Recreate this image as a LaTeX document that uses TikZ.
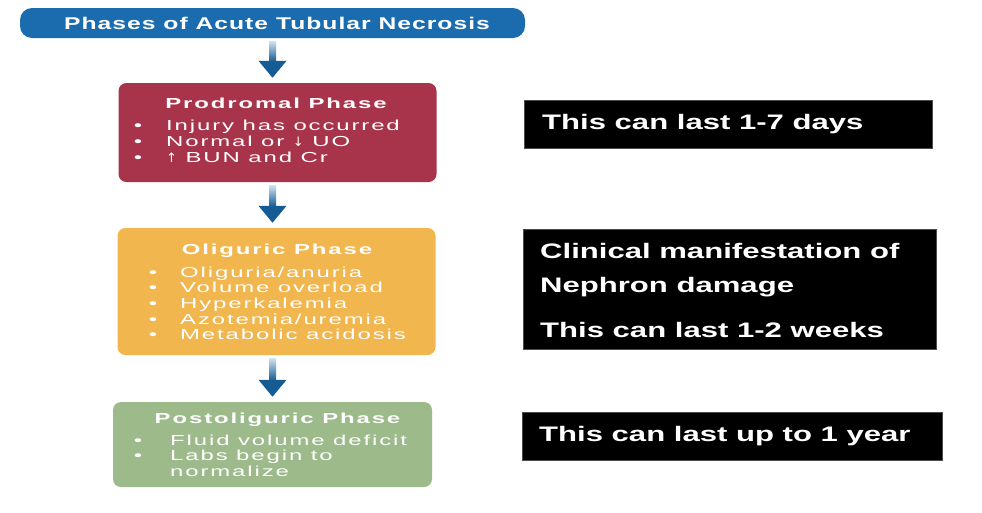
\documentclass[tikz,border=0pt]{standalone}
\usepackage{fontspec}
\setmainfont{Liberation Sans}
\newfontfamily\hfont[FakeStretch=1.45,LetterSpace=6]{Liberation Sans}
\newfontfamily\lfont[FakeStretch=1.65,LetterSpace=13]{Liberation Sans}
\newfontfamily\rfont[FakeStretch=1.48]{Liberation Sans}
\newfontfamily\arrfont{DejaVu Sans}
\usetikzlibrary{arrows.meta,calc}
\definecolor{tblue}{HTML}{1A6CAE}
\definecolor{crim}{HTML}{A8344B}
\definecolor{oran}{HTML}{F2B64E}
\definecolor{gren}{HTML}{9DBA8B}
\tikzset{
  phasebox/.style={draw=none, rounded corners=8pt, inner sep=0pt},
  htitle/.style={anchor=base, text=white, inner sep=0pt, font=\hfont\bfseries\fontsize{17}{20}\selectfont},
  ptitle/.style={anchor=base, text=white, inner sep=0pt, font=\lfont\bfseries\fontsize{14.5}{16}\selectfont},
  pbul/.style={anchor=base, text=white, inner sep=0pt, font=\lfont\fontsize{14.5}{16}\selectfont},
  pitem/.style={anchor=base west, text=white, inner sep=0pt, font=\lfont\fontsize{14.5}{16}\selectfont},
  blackbox/.style={fill=black, draw=black!70, line width=0.6pt, inner sep=0pt, anchor=north west},
  rtext/.style={anchor=base west, text=white, inner sep=0pt, font=\rfont\bfseries\fontsize{21}{24}\selectfont},
  flowarrow/.style={draw=tblue!85!black, line width=7pt, -{Triangle[width=27pt,length=17pt]}, shorten <=3pt, shorten >=5pt},
  shaftshade/.style={top color=tblue!20, bottom color=tblue!85!black}
}
\newcommand{\upar}{{\arrfont\fontsize{13}{16}\selectfont ↑}}
\newcommand{\dnar}{{\arrfont\fontsize{13}{16}\selectfont ↓}}
\begin{document}
\begin{tikzpicture}[x=1pt,y=-1pt]
\useasboundingbox[fill=white] (0,0) rectangle (982,512);

% title
\node[phasebox, rounded corners=12pt, fill=tblue, minimum width=505pt, minimum height=30pt] (title) at (272.5,23) {};
\node[htitle] (titleT) at (277,29.5) {Phases of Acute Tubular Necrosis};

% prodromal
\node[phasebox, fill=crim, minimum width=318pt, minimum height=99pt] (pro) at (277.5,132.5) {};
\node[ptitle] (proT) at (276,108) {Prodromal Phase};
\node[pbul] (pb1) at (138,130) {•};
\node[pitem] (pi1) at (166,130) {Injury has occurred};
\node[pbul] (pb2) at (138,146.5) {•};
\node[pitem] (pi2) at (166,146.5) {Normal or \dnar\ UO};
\node[pbul] (pb3) at (138,162.5) {•};
\node[pitem] (pi3) at (166,162.5) {\upar\ BUN and Cr};

% oliguric
\node[phasebox, fill=oran, minimum width=318pt, minimum height=127pt] (oli) at (276.5,291.5) {};
\node[ptitle] (oliT) at (277,254) {Oliguric Phase};
\node[pbul] (ob1) at (153,277) {•};
\node[pitem] (oi1) at (180,277) {Oliguria/anuria};
\node[pbul] (ob2) at (153,292.7) {•};
\node[pitem] (oi2) at (180,292.7) {Volume overload};
\node[pbul] (ob3) at (153,308.3) {•};
\node[pitem] (oi3) at (180,308.3) {Hyperkalemia};
\node[pbul] (ob4) at (153,324) {•};
\node[pitem] (oi4) at (180,324) {Azotemia/uremia};
\node[pbul] (ob5) at (153,339.5) {•};
\node[pitem] (oi5) at (180,339.5) {Metabolic acidosis};

% postoliguric
\node[phasebox, fill=gren, minimum width=319pt, minimum height=85pt] (post) at (272.5,444.5) {};
\node[ptitle] (postT) at (277.5,423) {Postoliguric Phase};
\node[pbul] (sb1) at (138,445) {•};
\node[pitem] (si1) at (170,445) {Fluid volume deficit};
\node[pbul] (sb2) at (138,460.7) {•};
\node[pitem] (si2) at (170,460.7) {Labs begin to};
\node[pitem] (si3) at (170,476) {normalize};

% arrows
\draw[flowarrow] (title.south) -- (title.south |- pro.north);
\draw[flowarrow] (pro.south -| title.south) -- (oli.north -| title.south);
\draw[flowarrow] (oli.south -| title.south) -- (post.north -| title.south);
\shade[shaftshade] ($(title.south)+(-3.5,3)$) rectangle ($(title.south |- pro.north)+(3.5,-21.5)$);
\shade[shaftshade] ($(pro.south -| title.south)+(-3.5,3)$) rectangle ($(oli.north -| title.south)+(3.5,-21.5)$);
\shade[shaftshade] ($(oli.south -| title.south)+(-3.5,3)$) rectangle ($(post.north -| title.south)+(3.5,-21.5)$);

% right black boxes
\node[blackbox, minimum width=408pt, minimum height=48pt] (r1) at (524,100) {};
\node[rtext] (r1T) at (542,129) {This can last 1-7 days};
\node[blackbox, minimum width=413pt, minimum height=120pt] (r2) at (523,229) {};
\node[rtext] (r2a) at (540,258) {Clinical manifestation of};
\node[rtext] (r2b) at (540,292) {Nephron damage};
\node[rtext] (r2c) at (540,337) {This can last 1-2 weeks};
\node[blackbox, minimum width=420pt, minimum height=48pt] (r3) at (522,412) {};
\node[rtext] (r3T) at (539,441) {This can last up to 1 year};
\end{tikzpicture}
\end{document}
